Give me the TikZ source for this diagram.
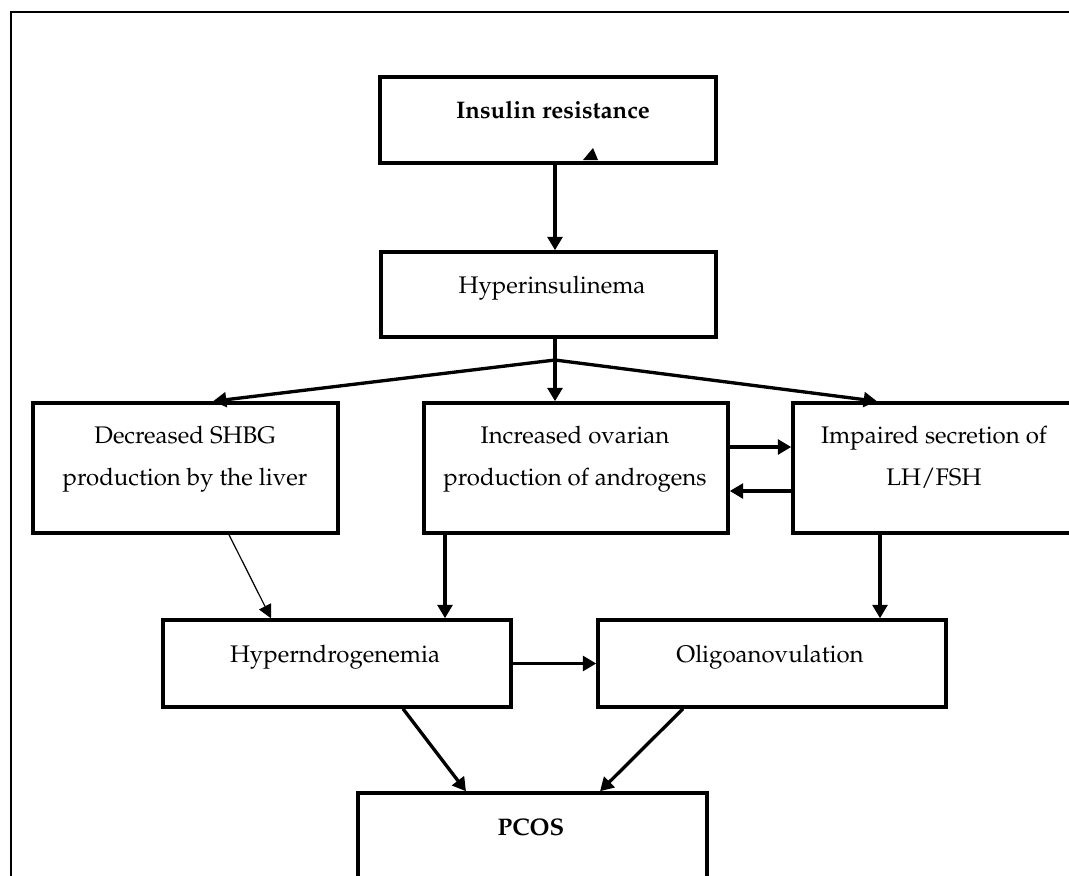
\documentclass[tikz,border=0pt]{standalone}
\usepackage[T1]{fontenc}
\usepackage{mathpazo}
\usetikzlibrary{arrows.meta,calc}
\tikzset{
  box/.style 2 args={draw, rectangle, line width=2.6pt, inner sep=0pt,
    minimum width=#1*0.75pt, minimum height=#2*0.75pt},
  txt/.style={anchor=base, inner sep=0pt, font=\fontsize{18}{21}\selectfont},
  arr/.style={line width=2.5pt, -{Triangle[length=10pt,width=11pt]}},
  thinarr/.style={line width=0.9pt, -{Triangle[length=10pt,width=10pt]}},
  plain/.style={line width=2.5pt},
  frame/.style={line width=1.7pt}
}
\begin{document}
\begin{tikzpicture}[x=0.75pt,y=-0.75pt]
\useasboundingbox (0,0) rectangle (1069,875);
\clip (0,0) rectangle (1069,875);
\draw[frame] (11,12) rectangle (1120,920);

% boxes
\node[box={336}{86}]  (ir)   at (548,120)   {};
\node[box={335}{85}]  (hi)   at (548.5,294.5) {};
\node[box={305}{130}] (dec)  at (185.5,468) {};
\node[box={304}{130}] (inc)  at (576,468)   {};
\node[box={282}{130}] (imp)  at (934,468)   {};
\node[box={348}{87}]  (hyp)  at (337,663.5) {};
\node[box={348}{87}]  (oli)  at (772,663.5) {};
\node[box={349}{90}]  (pcos) at (532.5,838) {};

% texts
\node[txt] (tir)  at (553,118) {\textbf{Insulin resistance}};
\node[txt] (thi)  at (552,293) {Hyperinsulinema};
\node[txt] (td1)  at (185,443) {Decreased SHBG};
\node[txt] (td2)  at (185,485) {production by the liver};
\node[txt] (ti1)  at (575,443) {Increased ovarian};
\node[txt] (ti2)  at (575,485) {production of androgens};
\node[txt] (tm1)  at (934,443) {Impaired secretion of};
\node[txt] (tm2)  at (934,485) {LH/FSH};
\node[txt] (thy)  at (335,662) {Hyperndrogenemia};
\node[txt] (tol)  at (770,662) {Oligoanovulation};
\node[txt] (tpc)  at (531,835) {\textbf{PCOS}};

% stray arrowhead inside the top box
\fill (593,148) -- (583,160) -- (598,160) -- cycle;

% connectors
\coordinate (fan) at (555,360);
\draw[arr] (ir.south -| fan) -- (hi.north -| fan);
\draw[plain] (hi.south -| fan) -- (fan);
\draw[arr] (fan) -- ($(dec.north)+(27.5,0)$);
\draw[arr] (fan) -- (inc.north -| fan);
\draw[arr] (fan) -- ($(imp.north)+(-57,0)$);
\draw[arr] ($(inc.east)+(0,-21)$) -- ($(imp.west)+(0,-21)$);
\draw[arr] ($(imp.west)+(0,23)$) -- ($(inc.east)+(0,23)$);
\draw[thinarr] ($(dec.south)+(43.5,0)$) -- ($(hyp.north)+(-66,0)$);
\draw[arr] ($(inc.south)+(-131,0)$) -- ($(hyp.north)+(108,0)$);
\draw[arr] ($(imp.south)+(-54,0)$) -- ($(oli.north)+(108,0)$);
\draw[arr] (hyp.east) -- (oli.west);
\draw[arr] ($(hyp.south)+(66,0)$) -- ($(pcos.north)+(-66.5,0)$);
\draw[arr] ($(oli.south)+(-89,0)$) -- ($(pcos.north)+(67.5,0)$);
\end{tikzpicture}
\end{document}
